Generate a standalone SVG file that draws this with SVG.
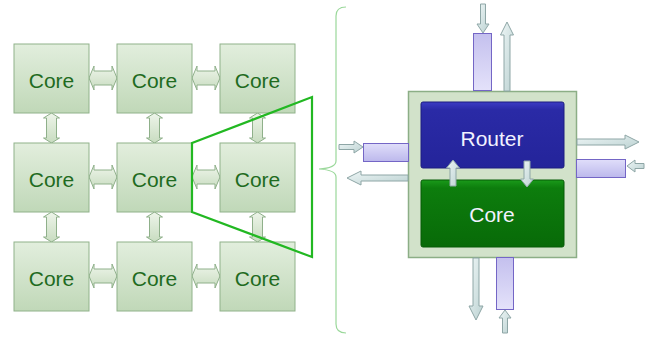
<svg xmlns="http://www.w3.org/2000/svg" width="657" height="337" viewBox="0 0 657 337">
  <style>
    .core { fill: url(#coreFill); stroke: #90b28a; stroke-width: 1; }
    .coreText { font-family: "Liberation Sans", Arial, sans-serif; font-size: 21px; fill: #1f6b1f; text-anchor: middle; }
    .link { fill: url(#linkFill); stroke: #8fb08a; stroke-width: 1; }
    .buf { stroke: #7466c6; stroke-width: 1; }
    .flow { fill: url(#flowFill); stroke: #8ea6a6; stroke-width: 1; }
    .label { font-family: "Liberation Sans", Arial, sans-serif; font-size: 21px; fill: #f2f2ff; text-anchor: middle; }
  </style>
  <defs>
    <linearGradient id="coreFill" x1="0" y1="0" x2="0" y2="1">
      <stop offset="0" stop-color="#e2eedd"/>
      <stop offset="1" stop-color="#c0d8b8"/>
    </linearGradient>
    <linearGradient id="linkFill" x1="0" y1="0" x2="0" y2="1">
      <stop offset="0" stop-color="#eef5ea"/>
      <stop offset="1" stop-color="#c8dcc0"/>
    </linearGradient>
    <linearGradient id="flowFill" x1="0" y1="0" x2="1" y2="1">
      <stop offset="0" stop-color="#eef6f6"/>
      <stop offset="1" stop-color="#bcd2d2"/>
    </linearGradient>
    <linearGradient id="bufV" x1="0" y1="0" x2="0" y2="1">
      <stop offset="0" stop-color="#c4c0ee"/>
      <stop offset="1" stop-color="#e4e2fa"/>
    </linearGradient>
    <linearGradient id="bufH" x1="0" y1="0" x2="0" y2="1">
      <stop offset="0" stop-color="#e0defa"/>
      <stop offset="1" stop-color="#bcb8ec"/>
    </linearGradient>
    <linearGradient id="routerFill" x1="0" y1="0" x2="0" y2="1">
      <stop offset="0" stop-color="#3c3cc4"/>
      <stop offset="0.12" stop-color="#2a2aa6"/>
      <stop offset="1" stop-color="#24249a"/>
    </linearGradient>
    <linearGradient id="tileFill" x1="0" y1="0" x2="0" y2="1">
      <stop offset="0" stop-color="#1a9a1a"/>
      <stop offset="0.12" stop-color="#0d7d0d"/>
      <stop offset="1" stop-color="#086a08"/>
    </linearGradient>
    <!-- double-headed mesh links, centred on the origin -->
    <path id="hLink" d="M-14,0 L-9,-12 L-9,-7 L9,-7 L9,-12 L14,0 L9,12 L9,7 L-9,7 L-9,12 Z"/>
    <path id="vLink" d="M0,-15 L8,-10 L5,-10 L5,10 L8,10 L0,15 L-8,10 L-5,10 L-5,-10 L-8,-10 Z"/>
  </defs>

  <rect width="657" height="337" fill="#ffffff"/>

  <!-- mesh links -->
  <g id="mesh-links">
    <use href="#hLink" class="link" x="103" y="78"/>
    <use href="#hLink" class="link" x="206" y="78"/>
    <use href="#hLink" class="link" x="103" y="177"/>
    <use href="#hLink" class="link" x="206" y="177"/>
    <use href="#hLink" class="link" x="103" y="276"/>
    <use href="#hLink" class="link" x="206" y="276"/>
    <use href="#vLink" class="link" x="51.5" y="128"/>
    <use href="#vLink" class="link" x="154.5" y="128"/>
    <use href="#vLink" class="link" x="257.5" y="128"/>
    <use href="#vLink" class="link" x="51.5" y="227"/>
    <use href="#vLink" class="link" x="154.5" y="227"/>
    <use href="#vLink" class="link" x="257.5" y="227"/>
  </g>

  <!-- 3x3 mesh of cores -->
  <g id="core-r1c1"><rect class="core" x="14" y="44" width="75" height="69"/><text class="coreText" x="51.5" y="88">Core</text></g>
  <g id="core-r1c2"><rect class="core" x="117" y="44" width="75" height="69"/><text class="coreText" x="154.5" y="88">Core</text></g>
  <g id="core-r1c3"><rect class="core" x="220" y="44" width="75" height="69"/><text class="coreText" x="257.5" y="88">Core</text></g>
  <g id="core-r2c1"><rect class="core" x="14" y="143" width="75" height="69"/><text class="coreText" x="51.5" y="187">Core</text></g>
  <g id="core-r2c2"><rect class="core" x="117" y="143" width="75" height="69"/><text class="coreText" x="154.5" y="187">Core</text></g>
  <g id="core-r2c3"><rect class="core" x="220" y="143" width="75" height="69"/><text class="coreText" x="257.5" y="187">Core</text></g>
  <g id="core-r3c1"><rect class="core" x="14" y="242" width="75" height="69"/><text class="coreText" x="51.5" y="286">Core</text></g>
  <g id="core-r3c2"><rect class="core" x="117" y="242" width="75" height="69"/><text class="coreText" x="154.5" y="286">Core</text></g>
  <g id="core-r3c3"><rect class="core" x="220" y="242" width="75" height="69"/><text class="coreText" x="257.5" y="286">Core</text></g>

  <!-- zoom-out trapezoid from the centre core -->
  <g id="zoom-frame">
    <path d="M192,143 L312,97 L312,257 L192,212 Z" fill="none" stroke="#22b822" stroke-width="2.2" stroke-linejoin="miter"/>
  </g>

  <!-- brace -->
  <g id="brace">
    <path d="M346,7 Q336,7 336,16 L336,161 Q336,168 319,169 Q336,170 336,177 L336,324 Q336,333 346,333" fill="none" stroke="#9ad89a" stroke-width="1.2"/>
  </g>

  <!-- tile: router + core with input buffers -->
  <g id="tile">
    <rect x="408.5" y="91.5" width="168" height="166" fill="#d2e2ca" stroke="#8cae86" stroke-width="1.5"/>
  </g>
  <g id="router">
    <rect x="421" y="102" width="143" height="66" rx="2" fill="url(#routerFill)" stroke="#1c1c80" stroke-width="1"/>
    <text class="label" x="492" y="146">Router</text>
  </g>
  <g id="tile-core">
    <rect x="421" y="180" width="143" height="67" rx="2" fill="url(#tileFill)" stroke="#075a07" stroke-width="1"/>
    <text class="label" x="492" y="222">Core</text>
  </g>

  <g id="buffers">
    <rect class="buf" x="473.5" y="33.5" width="18" height="57" fill="url(#bufV)"/>
    <rect class="buf" x="363.5" y="143.5" width="45" height="18" fill="url(#bufH)"/>
    <rect class="buf" x="576.5" y="159.5" width="49" height="18" fill="url(#bufH)"/>
    <rect class="buf" x="496.5" y="257.5" width="17" height="52" fill="url(#bufV)"/>
  </g>

  <!-- router ports and local links -->
  <g id="connectors">
    <!-- north in / out -->
    <path class="flow" d="M480.5,4 L485.5,4 L485.5,24 L489,24 L483,33 L477,24 L480.5,24 Z"/>
    <path class="flow" d="M504,91 L510,91 L510,35 L513.5,35 L507,22 L500.5,35 L504,35 Z"/>
    <!-- west in / out -->
    <path class="flow" d="M339,144.5 L354,144.5 L354,141 L363,147 L354,153 L354,149.5 L339,149.5 Z"/>
    <path class="flow" d="M408,175 L361,175 L361,171 L347,178 L361,185 L361,181 L408,181 Z"/>
    <!-- east out / in -->
    <path class="flow" d="M577,139 L625,139 L625,135 L639,142 L625,149 L625,145 L577,145 Z"/>
    <path class="flow" d="M644,163.5 L635,163.5 L635,160 L627,166 L635,172 L635,168.5 L644,168.5 Z"/>
    <!-- south out / in -->
    <path class="flow" d="M473,258 L479,258 L479,306 L483,306 L476,320 L469,306 L473,306 Z"/>
    <path class="flow" d="M502.5,333 L507.5,333 L507.5,318 L511,318 L505,310 L499,318 L502.5,318 Z"/>
    <!-- router <-> core -->
    <path class="flow" d="M450,186 L456,186 L456,168 L459.5,168 L453,160 L446.5,168 L450,168 Z"/>
    <path class="flow" d="M524,161 L530,161 L530,179 L533.5,179 L527,187 L520.5,179 L524,179 Z"/>
  </g>
</svg>
